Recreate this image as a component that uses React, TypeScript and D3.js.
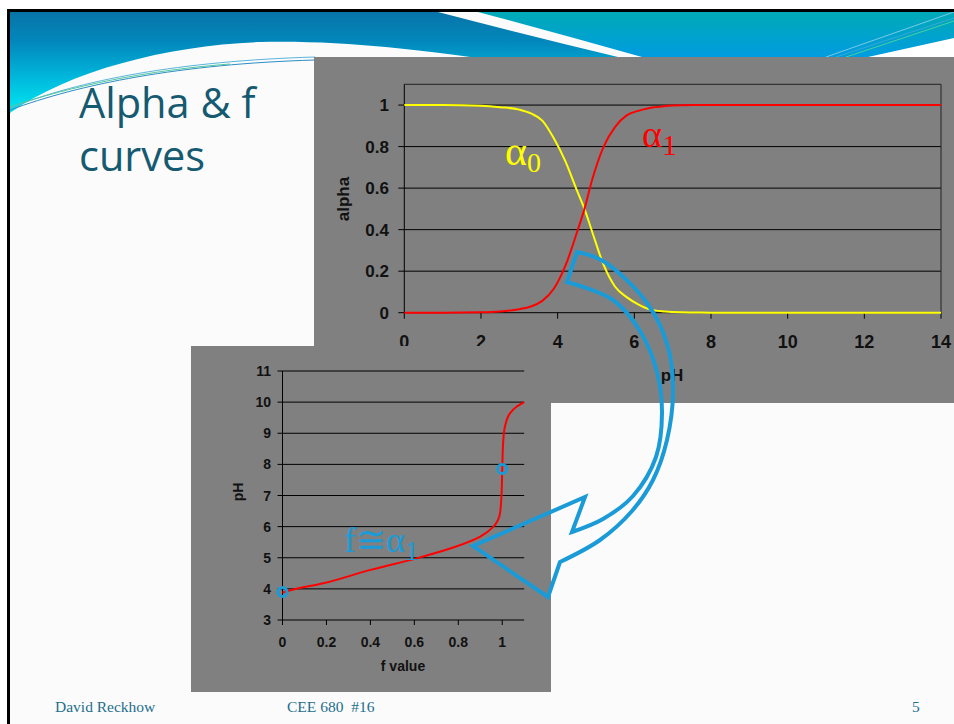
import React from 'react';
import * as d3 from 'd3';

// ---- top chart data (alpha vs pH) ----
const pHTop = [0, 1, 2, 2.5, 3, 3.3, 3.6, 3.9, 4.2, 4.5, 4.7, 4.9, 5.2, 5.5, 5.8, 6.1, 6.4, 6.8, 7.2, 7.6, 8, 10, 12, 14];
const alpha0 = [1, 1, 0.997, 0.99, 0.978, 0.96, 0.925, 0.84, 0.73, 0.59, 0.5, 0.39, 0.23, 0.125, 0.075, 0.04, 0.016, 0.006, 0.002, 0.001, 0, 0, 0, 0];
const alpha1 = [0, 0, 0.002, 0.006, 0.017, 0.03, 0.057, 0.115, 0.225, 0.385, 0.5, 0.64, 0.8, 0.895, 0.95, 0.972, 0.986, 0.995, 0.999, 1, 1, 1, 1, 1];
const topYTicks = [0, 0.2, 0.4, 0.6, 0.8, 1];
const topYLabels = ['0', '0.2', '0.4', '0.6', '0.8', '1'];
const topXTicks = [0, 2, 4, 6, 8, 10, 12, 14];

// ---- bottom chart data (pH vs f) ----
const fValue = [0, 0.05, 0.185, 0.4, 0.61, 0.79, 0.9, 0.96, 0.99, 0.997, 1.0, 1.005, 1.012, 1.035, 1.065, 1.1];
const pHf = [3.88, 3.98, 4.18, 4.61, 4.98, 5.36, 5.68, 6.0, 6.43, 7.07, 7.82, 8.78, 9.2, 9.64, 9.85, 10.0];
const markerF = [0, 1.0];
const markerPH = [3.9, 7.85];
const botYTicks = [3, 4, 5, 6, 7, 8, 9, 10, 11];
const botXTicks = [0, 0.2, 0.4, 0.6, 0.8, 1];
const botXLabels = ['0', '0.2', '0.4', '0.6', '0.8', '1'];

// ---- annotation arrow outline (slide pixels) ----
const arrowOuter: [number, number][] = [[577, 252], [603, 261], [647, 303], [668, 347], [673, 392], [667, 440], [653, 480], [632, 511], [600, 540], [560, 562]];
const arrowHead: [number, number][] = [[548, 597], [473, 546], [585, 497], [572, 532]];
const arrowInner: [number, number][] = [[572, 532], [603, 519], [633, 496], [656, 457], [662, 413], [657, 372], [640, 331], [613, 300], [567, 282]];

const AX = "'Liberation Sans', Arial, sans-serif";
const SERIF = "'Liberation Serif', 'Times New Roman', serif";
const GRAY = '#808080';
const BLUE = '#1a9bd7';

export default function App() {
  const xT = d3.scaleLinear().domain([0, 14]).range([404.3, 941]);
  const yT = d3.scaleLinear().domain([0, 1.1]).range([312.7, 84.3]);
  const xB = d3.scaleLinear().domain([0, 1.1]).range([282.5, 524.2]);
  const yB = d3.scaleLinear().domain([3, 11]).range([620, 371]);

  const lineTop = d3.line<number>().x((_, i) => xT(pHTop[i])).curve(d3.curveMonotoneX);
  const y0Path = lineTop.y((d) => yT(d))(alpha0) || '';
  const y1Path = lineTop.y((d) => yT(d))(alpha1) || '';
  const fPath = d3.line<number>()
    .x((d) => xB(d))
    .y((_, i) => yB(pHf[i]))
    .curve(d3.curveMonotoneY)(fValue) || '';

  const smooth = d3.line().curve(d3.curveCatmullRom.alpha(0.5));
  const outerStr = smooth(arrowOuter) || '';
  const innerStr = (smooth(arrowInner) || '').replace(/^M/, 'L');
  const headStr = arrowHead.map((p) => `L${p[0]},${p[1]}`).join('');
  const arrowPath = outerStr + headStr + innerStr + 'Z';

  return (
    <svg width={954} height={724} style={{ position: 'absolute', left: 0, top: 0 }} xmlns="http://www.w3.org/2000/svg">
      <defs>
        <linearGradient id="gA" x1="0" y1="12" x2="0" y2="113" gradientUnits="userSpaceOnUse">
          <stop offset="0" stopColor="#0874a8" />
          <stop offset="0.3" stopColor="#0288bc" />
          <stop offset="0.65" stopColor="#00b8dc" />
          <stop offset="1" stopColor="#00e8f2" />
        </linearGradient>
        <linearGradient id="gB" x1="0" y1="12" x2="0" y2="57" gradientUnits="userSpaceOnUse">
          <stop offset="0" stopColor="#00aab6" />
          <stop offset="1" stopColor="#009ce0" />
        </linearGradient>
      </defs>
      <rect x={0} y={0} width={954} height={724} fill="#ffffff" />
      <rect x={10} y={12} width={944} height={712} fill="#fbfbfb" />

      {/* banner */}
      <path d="M10,12 L438,12 Q530,36 618,57 L470,57 C420,50 340,40 260,42 C170,45 70,70 10,113 Z" fill="url(#gA)" />
      <path d="M478,12 L954,12 L954,57 L642,57 Q560,34 478,12 Z" fill="url(#gB)" />
      <path d="M868,57 L954,38 L954,57 Z" fill="#ffffff" />
      <path d="M826,57 L954,12" stroke="#7cc8e4" strokeWidth={1} fill="none" />
      <path d="M836,57 L954,18" stroke="#3aa6d6" strokeWidth={1} fill="none" />
      <path d="M846,57 L954,21" stroke="#46d0a0" strokeWidth={1} fill="none" />
      <path d="M10,110 C80,84 180,64 315,60" stroke="#2c8ec4" strokeWidth={1} fill="none" />
      <path d="M10,108 C80,80 180,61 315,57" stroke="#5ab4dc" strokeWidth={1} fill="none" />
      <path d="M10,107 C70,86 150,70 230,64" stroke="#52c8a0" strokeWidth={1} fill="none" />
      <path d="M8.5,724 L8.5,10.5 L954,10.5" stroke="#000" strokeWidth={3} fill="none" />

      {/* title */}
      <text x={79} y={118} fontFamily="'Open Sans', sans-serif" fontSize={41.5} fill="#155a70">Alpha &amp; f</text>
      <text x={79} y={171} fontFamily="'Open Sans', sans-serif" fontSize={41.5} fill="#155a70">curves</text>

      {/* ---------- top chart ---------- */}
      <rect x={314} y={57} width={640} height={346} fill={GRAY} />
      {topYTicks.slice(1).map((t) => (
        <line key={'gt' + t} x1={xT(0)} x2={xT(14)} y1={yT(t)} y2={yT(t)} stroke="#000" strokeWidth={1} />
      ))}
      <line x1={xT(0)} x2={xT(14)} y1={yT(1.1)} y2={yT(1.1)} stroke="#222" strokeWidth={1} />
      <line x1={xT(14)} x2={xT(14)} y1={yT(1.1)} y2={yT(0)} stroke="#222" strokeWidth={1} />
      <line x1={xT(0)} x2={xT(0)} y1={yT(1.1)} y2={yT(0)} stroke="#000" strokeWidth={1} />
      <line x1={xT(0)} x2={xT(14)} y1={yT(0)} y2={yT(0)} stroke="#000" strokeWidth={1} />
      {topYTicks.map((t, i) => (
        <g key={'yt' + t}>
          <line x1={xT(0) - 6} x2={xT(0)} y1={yT(t)} y2={yT(t)} stroke="#000" />
          <text x={389} y={yT(t) + 6} textAnchor="end" fontFamily={AX} fontWeight="bold" fontSize={17} fill="#111">{topYLabels[i]}</text>
        </g>
      ))}
      {topXTicks.map((t) => (
        <g key={'xt' + t}>
          <line x1={xT(t)} x2={xT(t)} y1={yT(0)} y2={yT(0) + 6} stroke="#000" />
          <text x={xT(t)} y={348} textAnchor="middle" fontFamily={AX} fontWeight="bold" fontSize={18} fill="#111">{t}</text>
        </g>
      ))}
      <text transform="translate(349,199) rotate(-90)" textAnchor="middle" fontFamily={AX} fontWeight="bold" fontSize={17} fill="#111">alpha</text>
      <text x={672} y={381} textAnchor="middle" fontFamily={AX} fontWeight="bold" fontSize={17} fill="#111">pH</text>
      <path d={y0Path} fill="none" stroke="#ffff00" strokeWidth={2} />
      <path d={y1Path} fill="none" stroke="#ff0000" strokeWidth={2} />
      <text x={505} y={165} fontFamily={SERIF} fontSize={42} fill="#ffff00">α<tspan fontSize={28} dy={7}>0</tspan></text>
      <text x={642} y={147} fontFamily={SERIF} fontSize={38} fill="#ff0000">α<tspan fontSize={30} dy={8}>1</tspan></text>

      {/* ---------- bottom chart ---------- */}
      <rect x={191} y={346} width={360} height={346} fill={GRAY} />
      {botYTicks.slice(1).map((t) => (
        <line key={'gb' + t} x1={xB(0)} x2={xB(1.1)} y1={yB(t)} y2={yB(t)} stroke="#000" strokeWidth={1} />
      ))}
      <line x1={xB(0)} x2={xB(0)} y1={yB(11)} y2={yB(3)} stroke="#000" />
      <line x1={xB(0)} x2={xB(1.1)} y1={yB(3)} y2={yB(3)} stroke="#000" />
      {botYTicks.map((t) => (
        <g key={'yb' + t}>
          <line x1={xB(0) - 5} x2={xB(0)} y1={yB(t)} y2={yB(t)} stroke="#000" />
          <text x={271} y={yB(t) + 5} textAnchor="end" fontFamily={AX} fontWeight="bold" fontSize={14} fill="#111">{t}</text>
        </g>
      ))}
      {botXTicks.map((t, i) => (
        <g key={'xb' + t}>
          <line x1={xB(t)} x2={xB(t)} y1={yB(3)} y2={yB(3) + 5} stroke="#000" />
          <text x={xB(t)} y={647} textAnchor="middle" fontFamily={AX} fontWeight="bold" fontSize={14} fill="#111">{botXLabels[i]}</text>
        </g>
      ))}
      <text x={403} y={671} textAnchor="middle" fontFamily={AX} fontWeight="bold" fontSize={14} fill="#111">f value</text>
      <text transform="translate(243,492) rotate(-90)" textAnchor="middle" fontFamily={AX} fontWeight="bold" fontSize={14} fill="#111">pH</text>
      <path d={fPath} fill="none" stroke="#ff0000" strokeWidth={2} />
      {markerF.map((f, i) => (
        <circle key={'m' + i} cx={xB(f)} cy={yB(markerPH[i])} r={4.5} fill="none" stroke={BLUE} strokeWidth={3} />
      ))}
      <text x={344} y={552} fontFamily={SERIF} fontSize={36} fill={BLUE}>f≅α<tspan fontSize={28} dy={8}>1</tspan></text>

      {/* arrow */}
      <path d={arrowPath} fill="none" stroke={BLUE} strokeWidth={4} strokeLinejoin="miter" />

      {/* footer */}
      <text x={55} y={712} fontFamily={SERIF} fontSize={15.5} fill="#1f6e8c">David Reckhow</text>
      <text x={287} y={712} fontFamily={SERIF} fontSize={15.5} fill="#1f6e8c" style={{ whiteSpace: 'pre' }}>{'CEE 680\u00a0\u00a0#16'}</text>
      <text x={912} y={712} fontFamily={SERIF} fontSize={15.5} fill="#1f6e8c">5</text>
    </svg>
  );
}
